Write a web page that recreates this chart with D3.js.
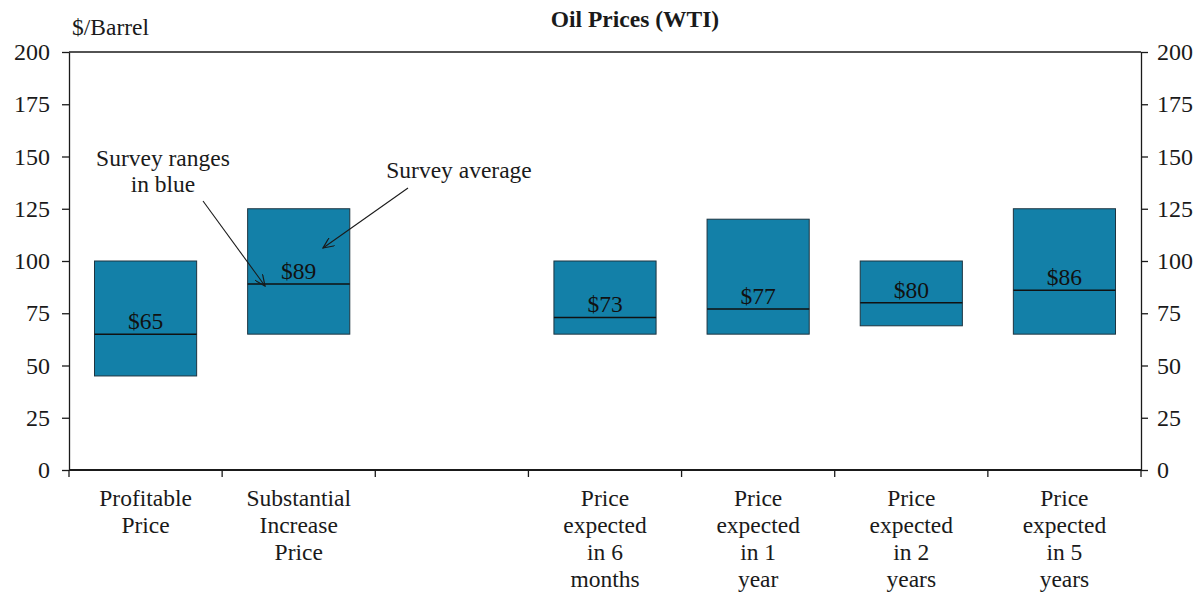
<!DOCTYPE html>
<html>
<head>
<meta charset="utf-8">
<script src="https://cdn.jsdelivr.net/npm/d3@7"></script>
<style>
  html, body { margin: 0; padding: 0; background: #fff; }
  svg { display: block; font-family: "Liberation Serif", "Times New Roman", serif; }
</style>
</head>
<body>
<svg id="chart" width="1200" height="597"></svg>
<script>
// ---- data ----
const categories = ["Profitable Price", "Substantial Increase Price", "", "Price expected in 6 months", "Price expected in 1 year", "Price expected in 2 years", "Price expected in 5 years"];
const categoryLines = [["Profitable", "Price"], ["Substantial", "Increase", "Price"], [], ["Price", "expected", "in 6", "months"], ["Price", "expected", "in 1", "year"], ["Price", "expected", "in 2", "years"], ["Price", "expected", "in 5", "years"]];
const rangeLow  = [45, 65, null, 65, 65, 69, 65];
const rangeHigh = [100, 125, null, 100, 120, 100, 125];
const average   = [65, 89, null, 73, 77, 80, 86];
const yTicks = [0, 25, 50, 75, 100, 125, 150, 175, 200];

// ---- layout ----
const svg = d3.select("#chart");
const pLeft = 69, pRight = 1141, pTop = 52, pBottom = 470;
const fontSize = 23.5;

const x = d3.scaleBand().domain(categories.map((c, i) => i)).range([pLeft, pRight])
  .paddingInner(0.333).paddingOuter(0.1665);
const y = d3.scaleLinear().domain([0, 200]).range([pBottom, pTop]);

const ink = "#1a1a1a";

// title
svg.append("text").attr("x", 635).attr("y", 27).attr("text-anchor", "middle")
  .attr("font-weight", "bold").attr("font-size", 23.5).attr("fill", ink).text("Oil Prices (WTI)");
svg.append("text").attr("x", 72).attr("y", 35).attr("font-size", fontSize).attr("fill", ink).text("$/Barrel");

// top border
svg.append("line").attr("x1", pLeft).attr("x2", pRight).attr("y1", pTop).attr("y2", pTop)
  .attr("stroke", ink).attr("stroke-width", 1.3);

// y axes
const yLeft = svg.append("g").attr("transform", `translate(${pLeft},0)`)
  .call(d3.axisLeft(y).tickValues(yTicks).tickSize(7).tickPadding(12).tickSizeOuter(0));
const yRight = svg.append("g").attr("transform", `translate(${pRight},0)`)
  .call(d3.axisRight(y).tickValues(yTicks).tickSize(7).tickPadding(9).tickSizeOuter(0));
[yLeft, yRight].forEach(g => {
  g.selectAll("path, line").attr("stroke", ink).attr("stroke-width", 1.3);
  g.selectAll("text").attr("font-size", 24).attr("fill", ink)
    .attr("font-family", "Liberation Serif, Times New Roman, serif");
});

// bars
const idx = categories.map((c, i) => i).filter(i => rangeLow[i] !== null);
const g = svg.append("g");
g.selectAll("rect").data(idx).join("rect")
  .attr("x", i => x(i)).attr("width", x.bandwidth())
  .attr("y", i => y(rangeHigh[i])).attr("height", i => y(rangeLow[i]) - y(rangeHigh[i]))
  .attr("fill", "#1380a8").attr("stroke", "#1d3440").attr("stroke-width", 1);
g.selectAll("line.avg").data(idx).join("line").attr("class", "avg")
  .attr("x1", i => x(i)).attr("x2", i => x(i) + x.bandwidth())
  .attr("y1", i => y(average[i])).attr("y2", i => y(average[i]))
  .attr("stroke", "#111").attr("stroke-width", 1.5);
g.selectAll("text.lab").data(idx).join("text").attr("class", "lab")
  .attr("x", i => x(i) + x.bandwidth() / 2).attr("y", i => y(average[i]) - 5)
  .attr("text-anchor", "middle").attr("font-size", fontSize).attr("fill", "#111")
  .text(i => "$" + average[i]);

// x axis
svg.append("line").attr("x1", pLeft).attr("x2", pRight).attr("y1", pBottom).attr("y2", pBottom)
  .attr("stroke", ink).attr("stroke-width", 1.8);
const step = x.step();
const bounds = d3.range(categories.length + 1).map(k => pLeft + k * step);
svg.selectAll("line.xt").data(bounds).join("line").attr("class", "xt")
  .attr("x1", d => d).attr("x2", d => d).attr("y1", pBottom).attr("y2", pBottom + 7)
  .attr("stroke", ink).attr("stroke-width", 1.3);
categories.forEach((c, i) => {
  const t = svg.append("text").attr("text-anchor", "middle").attr("font-size", fontSize).attr("fill", ink);
  categoryLines[i].forEach((ln, k) => {
    t.append("tspan").attr("x", x(i) + x.bandwidth() / 2).attr("y", 506 + k * 27).text(ln);
  });
});

// annotations
const defs = svg.append("defs");
defs.append("marker").attr("id", "arr").attr("viewBox", "0 0 12 10").attr("refX", 11).attr("refY", 5)
  .attr("markerWidth", 12).attr("markerHeight", 10).attr("markerUnits", "userSpaceOnUse").attr("orient", "auto")
  .append("path").attr("d", "M0,0 L11,5 L0,10").attr("fill", "none").attr("stroke", ink).attr("stroke-width", 1.2);

const ann = svg.append("g").attr("font-size", fontSize).attr("fill", ink).attr("text-anchor", "middle");
ann.append("text").attr("x", 163).attr("y", 166).text("Survey ranges");
ann.append("text").attr("x", 163).attr("y", 192).text("in blue");
ann.append("text").attr("x", 459).attr("y", 178).text("Survey average");
svg.append("line").attr("x1", 203).attr("y1", 201).attr("x2", 265).attr("y2", 286)
  .attr("stroke", ink).attr("stroke-width", 1.1).attr("marker-end", "url(#arr)");
svg.append("line").attr("x1", 408).attr("y1", 188).attr("x2", 323).attr("y2", 248)
  .attr("stroke", ink).attr("stroke-width", 1.1).attr("marker-end", "url(#arr)");
</script>
</body>
</html>
